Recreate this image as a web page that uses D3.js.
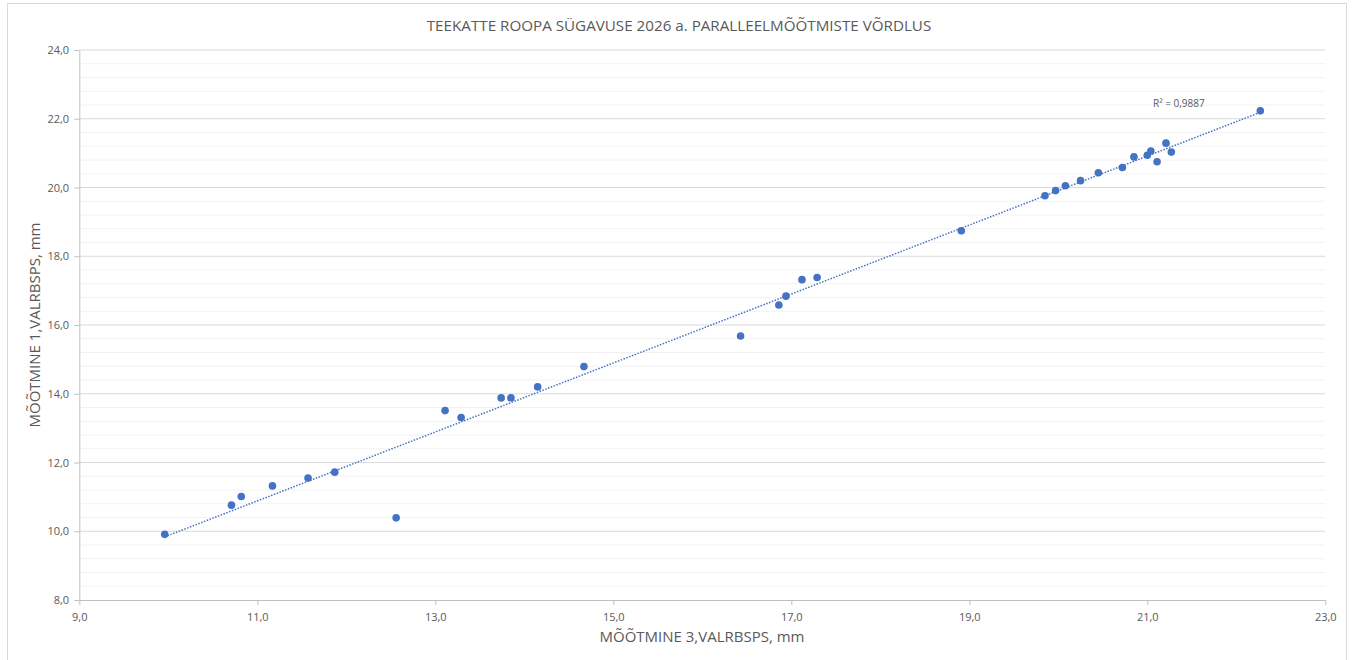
<!DOCTYPE html>
<html><head><meta charset="utf-8">
<script src="https://cdn.jsdelivr.net/npm/d3@7"></script>
<style>body{margin:0;background:#fff;} text{font-family:"Open Sans","Noto Sans",sans-serif;}</style>
</head><body><svg id="c" width="1356" height="660"></svg>
<script>
const xVals = [9.96,10.71,10.82,11.17,11.57,11.87,12.56,13.11,13.29,13.74,13.85,14.15,14.67,16.43,16.86,16.94,17.12,17.29,18.91,19.85,19.97,20.08,20.25,20.45,20.72,20.85,21.00,21.04,21.11,21.21,21.27,22.27];
const yVals = [9.91,10.76,11.01,11.32,11.55,11.72,10.39,13.51,13.31,13.88,13.88,14.20,14.79,15.68,16.58,16.84,17.32,17.38,18.74,19.76,19.91,20.05,20.20,20.43,20.58,20.89,20.94,21.06,20.75,21.29,21.03,22.23];
const xTicks = [9,11,13,15,17,19,21,23];
const yTicks = [8,10,12,14,16,18,20,22,24];
const title = "TEEKATTE ROOPA SÜGAVUSE 2026 a. PARALLEELMÕÕTMISTE VÕRDLUS";
const xLabel = "MÕÕTMINE 3,VALRBSPS, mm";
const yLabel = "MÕÕTMINE 1,VALRBSPS, mm";
const r2Label = "R² = 0,9887";

const svg = d3.select("#c");
const L=79.3,R=1325.3,T=50,B=600;
const x = d3.scaleLinear().domain([9,23]).range([L,R]);
const y = d3.scaleLinear().domain([8,24]).range([B,T]);
const fmt = d => d3.format(".1f")(d).replace(".",",");
const grey="#595959";

svg.append("rect").attr("x",7.5).attr("y",3.5).attr("width",1339).attr("height",670).attr("fill","#fff").attr("stroke","#d9d9d9");

// minor gridlines
const minor = d3.range(8,24.001,0.4).filter(v=>Math.abs(v/2-Math.round(v/2))>1e-6);
svg.append("g").selectAll("line").data(minor).join("line")
  .attr("x1",L).attr("x2",R).attr("y1",d=>y(d)).attr("y2",d=>y(d))
  .attr("stroke","#f2f2f2").attr("stroke-width",1);
// major gridlines
svg.append("g").selectAll("line").data(yTicks.slice(1)).join("line")
  .attr("x1",L).attr("x2",R).attr("y1",d=>y(d)).attr("y2",d=>y(d))
  .attr("stroke","#d9d9d9").attr("stroke-width",1);

const xa = svg.append("g").attr("transform",`translate(0,${B})`)
  .call(d3.axisBottom(x).tickValues(xTicks).tickFormat(fmt).tickSize(5).tickSizeOuter(0));
const ya = svg.append("g").attr("transform",`translate(${L},0)`)
  .call(d3.axisLeft(y).tickValues(yTicks).tickFormat(fmt).tickSize(5).tickSizeOuter(0));
[xa,ya].forEach(a=>{
  a.select(".domain").attr("stroke","#bfbfbf");
  a.selectAll(".tick line").attr("stroke","#bfbfbf");
  a.selectAll("text").attr("fill",grey).attr("font-size",11).attr("font-family",'"Open Sans",sans-serif');
});
xa.selectAll("text").attr("dy","1.2em");
ya.selectAll("text").attr("dx","-0.2em");

// regression
const n=xVals.length, mx=d3.mean(xVals), my=d3.mean(yVals);
let sxy=0,sxx=0; for(let i=0;i<n;i++){sxy+=(xVals[i]-mx)*(yVals[i]-my);sxx+=(xVals[i]-mx)**2;}
const b=sxy/sxx, a0=my-b*mx;
const x0=d3.min(xVals), x1=d3.max(xVals);
svg.append("line").attr("x1",x(x0)).attr("y1",y(a0+b*x0)).attr("x2",x(x1)).attr("y2",y(a0+b*x1))
  .attr("stroke","#4472c4").attr("stroke-width",1.5).attr("stroke-dasharray","1.5,1.5");

svg.append("g").selectAll("circle").data(xVals.map((v,i)=>[v,yVals[i]])).join("circle")
  .attr("cx",d=>x(d[0])).attr("cy",d=>y(d[1])).attr("r",3.8).attr("fill","#4472c4");

svg.append("text").attr("x",1153).attr("y",107).attr("fill",grey).attr("font-size",10).text(r2Label);
svg.append("text").attr("x",679).attr("y",30.5).attr("text-anchor","middle").attr("fill",grey).attr("font-size",15.2).text(title);
svg.append("text").attr("x",702).attr("y",642).attr("text-anchor","middle").attr("fill",grey).attr("font-size",15).text(xLabel);
svg.append("text").attr("transform","translate(40,325) rotate(-90)").attr("text-anchor","middle").attr("fill",grey).attr("font-size",15).text(yLabel);
</script></body></html>
